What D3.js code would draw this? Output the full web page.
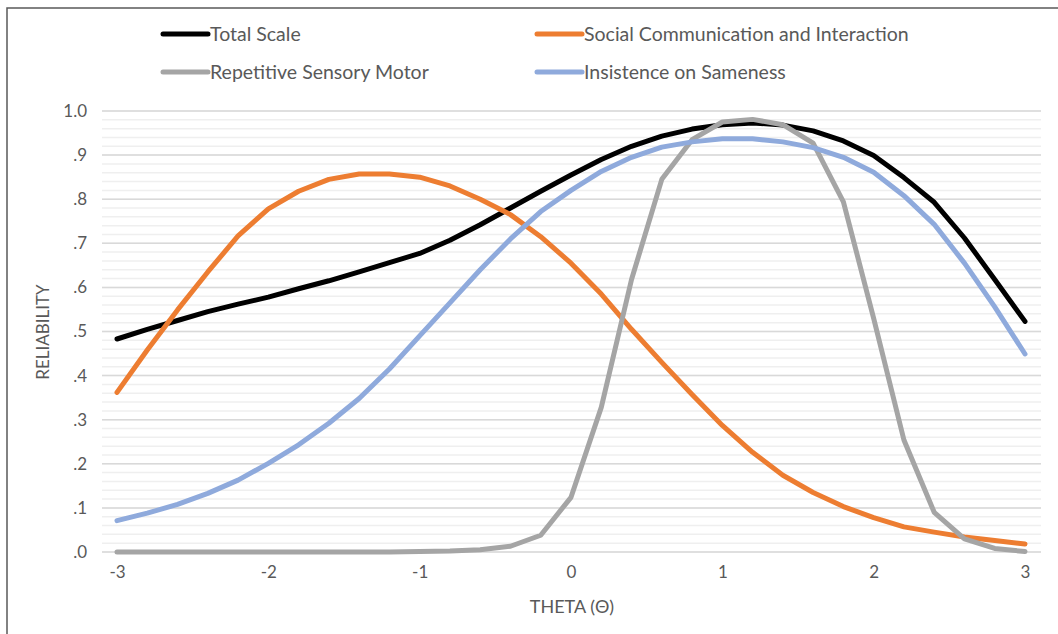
<!DOCTYPE html>
<html>
<head>
<meta charset="utf-8">
<script src="https://cdn.jsdelivr.net/npm/d3@7/dist/d3.min.js"></script>
<style>
  html, body { margin: 0; padding: 0; background: #fff; }
  svg { display: block; }
  text { font-family: Lato, "Open Sans", sans-serif; fill: #595959; }
</style>
</head>
<body>
<svg id="chart" width="1058" height="634"></svg>
<script>
const theta = [-3,-2.8,-2.6,-2.4,-2.2,-2,-1.8,-1.6,-1.4,-1.2,-1,-0.8,-0.6,-0.4,-0.2,0,0.2,0.4,0.6,0.8,1,1.2,1.4,1.6,1.8,2,2.2,2.4,2.6,2.8,3];

const totalScale = [0.483,0.505,0.525,0.545,0.562,0.578,0.597,0.615,0.635,0.656,0.677,0.707,0.742,0.780,0.818,0.855,0.890,0.920,0.943,0.959,0.969,0.973,0.968,0.955,0.932,0.899,0.849,0.793,0.712,0.618,0.523];
const socialComm = [0.362,0.458,0.549,0.635,0.717,0.778,0.818,0.845,0.857,0.857,0.850,0.830,0.800,0.765,0.715,0.655,0.585,0.505,0.430,0.357,0.287,0.226,0.174,0.135,0.103,0.078,0.057,0.045,0.034,0.026,0.018];
const repetitive = [0,0,0,0,0,0,0,0,0,0,0.001,0.002,0.005,0.013,0.038,0.124,0.328,0.618,0.845,0.935,0.975,0.981,0.969,0.927,0.794,0.530,0.254,0.090,0.030,0.008,0.001];
const insistence = [0.071,0.088,0.108,0.133,0.163,0.201,0.243,0.292,0.348,0.415,0.490,0.565,0.640,0.710,0.772,0.820,0.863,0.895,0.918,0.930,0.937,0.937,0.930,0.917,0.895,0.861,0.808,0.743,0.655,0.556,0.449];

const seriesNames = ["Total Scale","Social Communication and Interaction","Repetitive Sensory Motor","Insistence on Sameness"];
const seriesColors = ["#000000","#ED7D31","#A5A5A5","#8FAADC"];
const seriesValues = [totalScale, socialComm, repetitive, insistence];

const xTicks = [-3,-2,-1,0,1,2,3];
const xTickLabels = ["-3","-2","-1","0","1","2","3"];
const yTicks = [0,0.1,0.2,0.3,0.4,0.5,0.6,0.7,0.8,0.9,1.0];
const yTickLabels = [".0",".1",".2",".3",".4",".5",".6",".7",".8",".9","1.0"];
const yMinor = d3.range(0, 51).map(i => i * 0.02);

const svg = d3.select("#chart");

// outer frame
svg.append("rect").attr("x", 7).attr("y", 8).attr("width", 1070).attr("height", 650)
  .attr("fill", "none").attr("stroke", "#595959").attr("stroke-width", 1.5);

const x = d3.scaleLinear().domain([-3, 3]).range([117, 1025]);
const y = d3.scaleLinear().domain([0, 1]).range([552, 111]);
const gridX0 = 102, gridX1 = 1041;

// minor gridlines
svg.append("g").selectAll("line").data(yMinor).join("line")
  .attr("x1", gridX0).attr("x2", gridX1)
  .attr("y1", d => y(d)).attr("y2", d => y(d))
  .attr("stroke", "#EFEFEF").attr("stroke-width", 1.5);

// major gridlines
svg.append("g").selectAll("line").data(yTicks).join("line")
  .attr("x1", gridX0).attr("x2", gridX1)
  .attr("y1", d => y(d)).attr("y2", d => y(d))
  .attr("stroke", "#D9D9D9").attr("stroke-width", 1.5);

// y axis labels
const yAxis = d3.axisLeft(y).tickValues(yTicks).tickSize(0).tickPadding(0)
  .tickFormat((d, i) => yTickLabels[i]);
const gy = svg.append("g").attr("transform", "translate(87,0)").call(yAxis);
gy.select(".domain").remove();
gy.selectAll("text").style("font-family", "Lato, 'Open Sans', sans-serif").style("font-size", "17px").attr("fill", "#595959");

// x axis labels
const xAxis = d3.axisBottom(x).tickValues(xTicks).tickSize(0).tickPadding(0)
  .tickFormat((d, i) => xTickLabels[i]);
const gx = svg.append("g").attr("transform", "translate(0,566)").call(xAxis);
gx.select(".domain").remove();
gx.selectAll("text").style("font-family", "Lato, 'Open Sans', sans-serif").style("font-size", "17px").attr("fill", "#595959");

// axis titles
svg.append("text").attr("x", 572).attr("y", 613).attr("text-anchor", "middle")
  .style("font-size", "18px").text("THETA (Θ)");
svg.append("text").attr("transform", "translate(49,332) rotate(-90)").attr("text-anchor", "middle")
  .style("font-size", "17px").text("RELIABILITY");

// series lines
const line = d3.line().x((d, i) => x(theta[i])).y(d => y(d));
svg.append("g").selectAll("path").data(seriesValues).join("path")
  .attr("d", d => line(d))
  .attr("fill", "none")
  .attr("stroke", (d, i) => seriesColors[i])
  .attr("stroke-width", 5)
  .attr("stroke-linejoin", "round")
  .attr("stroke-linecap", "round");

// legend
const legendPos = [[163, 34], [537, 34], [163, 72], [537, 72]];
const lg = svg.append("g").selectAll("g").data(seriesNames).join("g")
  .attr("transform", (d, i) => `translate(${legendPos[i][0]},${legendPos[i][1]})`);
lg.append("line").attr("x1", 0).attr("x2", 45).attr("y1", 0).attr("y2", 0)
  .attr("stroke", (d, i) => seriesColors[i]).attr("stroke-width", 5).attr("stroke-linecap", "round");
lg.append("text").attr("x", 47).attr("y", 0).attr("dy", "0.35em")
  .style("font-size", "19.5px").text(d => d);
</script>
</body>
</html>
